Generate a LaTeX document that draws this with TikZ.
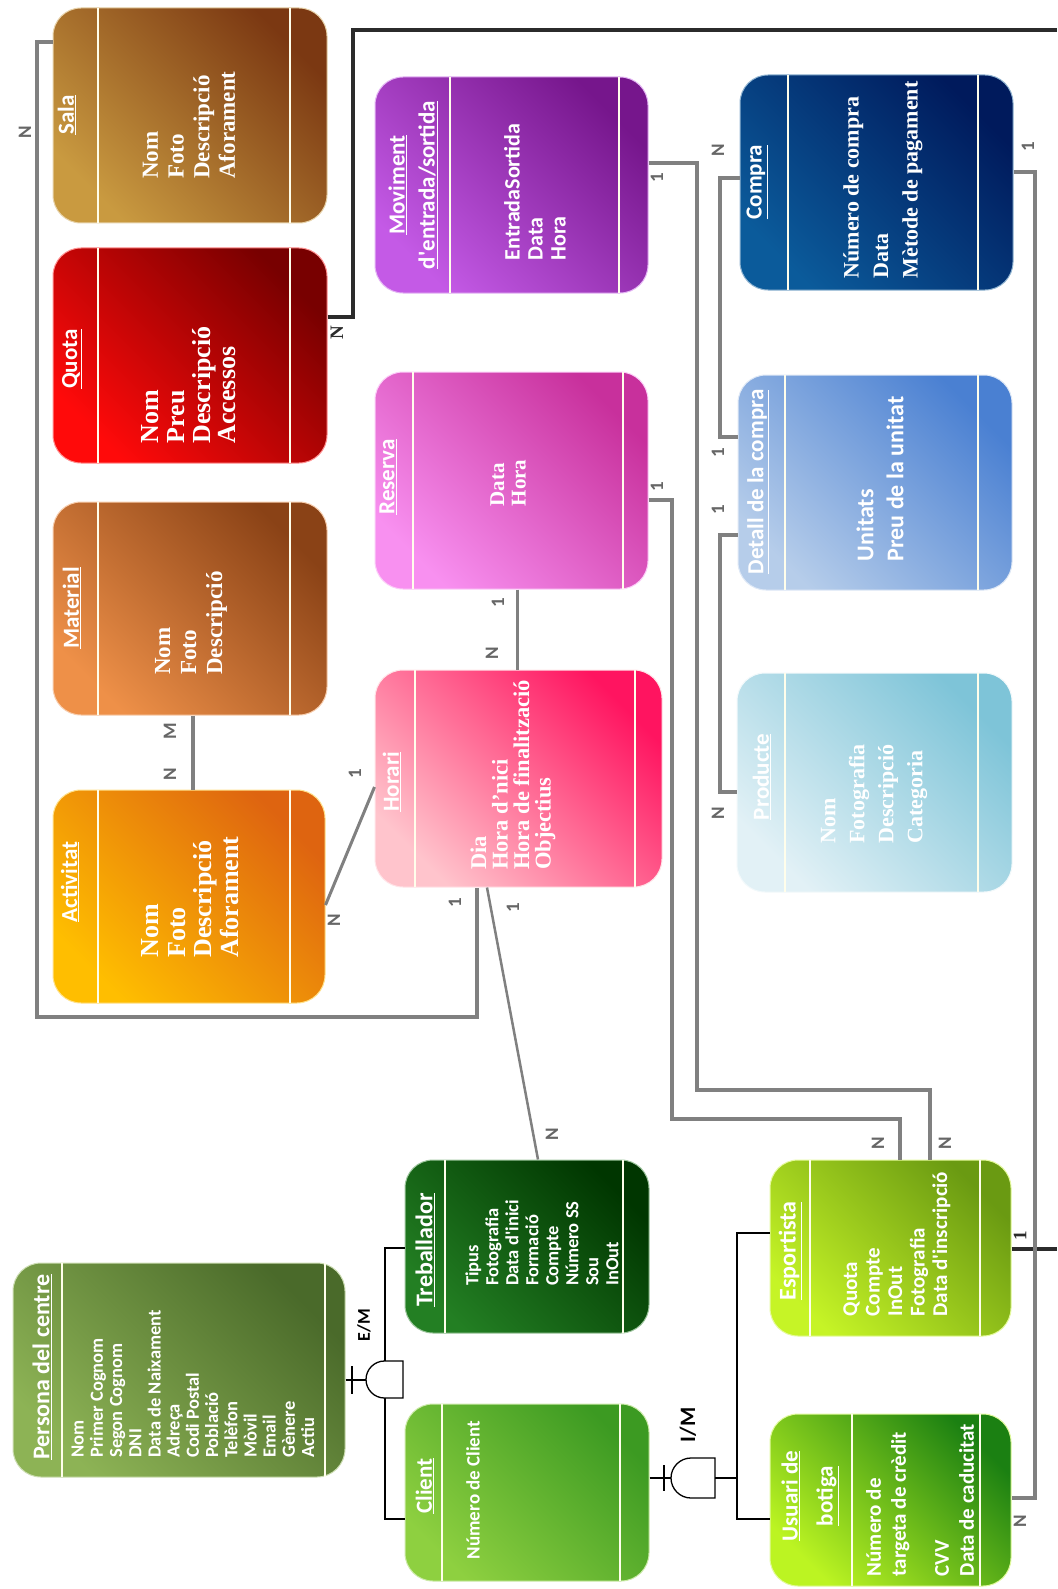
\documentclass[tikz,border=0pt]{standalone}
\usepackage{fontspec}
\setmainfont{Liberation Serif}
\newfontfamily\sansf{Carlito}
\usetikzlibrary{fit}
\definecolor{salaL}{HTML}{C99A40}\definecolor{salaD}{HTML}{7B3812}
\definecolor{quotaL}{HTML}{FF0A0A}\definecolor{quotaD}{HTML}{780000}
\definecolor{matL}{HTML}{EE9048}\definecolor{matD}{HTML}{8A4216}
\definecolor{actL}{HTML}{FFBE00}\definecolor{actD}{HTML}{DE6410}
\definecolor{movL}{HTML}{C45AE6}\definecolor{movD}{HTML}{76168C}
\definecolor{resL}{HTML}{F890F0}\definecolor{resD}{HTML}{C8309C}
\definecolor{horL}{HTML}{FFC4CC}\definecolor{horD}{HTML}{FF1460}
\definecolor{comL}{HTML}{0B5B9B}\definecolor{comD}{HTML}{001A5C}
\definecolor{detL}{HTML}{B6CDEA}\definecolor{detD}{HTML}{4A80D2}
\definecolor{proL}{HTML}{E2F1F6}\definecolor{proD}{HTML}{7EC4D8}
\definecolor{perL}{HTML}{8DB355}\definecolor{perD}{HTML}{4A6A2A}
\definecolor{trbL}{HTML}{237F23}\definecolor{trbD}{HTML}{003600}
\definecolor{cliL}{HTML}{8ED040}\definecolor{cliD}{HTML}{3C9A22}
\definecolor{espL}{HTML}{C6F426}\definecolor{espD}{HTML}{6A9A12}
\definecolor{usuL}{HTML}{BCF422}\definecolor{usuD}{HTML}{1B8012}
\definecolor{linegray}{HTML}{808080}
\definecolor{cardgray}{HTML}{666666}
\definecolor{darkline}{HTML}{2B2B2B}
\newcommand\entbox[9]{%
  \node[entity, fit={(#2,#3) (#4,#5)}, top color=#9, bottom color=#8,
        shading angle=-45, draw=#8!45!white] (#1) {};
  \draw[divider] (#6,#3) -- (#6,#5);
  \draw[divider] (#7,#3) -- (#7,#5);
}
\begin{document}
\begin{tikzpicture}[x=1pt,y=-1pt,
  entity/.style={rounded corners=28pt, inner sep=0pt, line width=1pt},
  divider/.style={draw=white!92!yellow, line width=1.2pt},
  hdr/.style={rotate=90, text=white, align=center, inner sep=0pt,
    font=\sansf\bfseries\fontsize{23}{30}\selectfont},
  sattr/.style 2 args={rotate=90, text=white, align=left, inner sep=0pt,
    font=\sansf\bfseries\fontsize{#1}{#2}\selectfont},
  rattr/.style 2 args={rotate=90, text=white, align=left, inner sep=0pt,
    font=\bfseries\fontsize{#1}{#2}\selectfont},
  card/.style={rotate=90, text=cardgray, inner sep=0pt,
    font=\sansf\bfseries\fontsize{19}{19}\selectfont},
  dcard/.style={card, text=darkline, font=\bfseries\fontsize{19}{19}\selectfont},
  gline/.style={draw=linegray, line width=4pt},
  dline/.style={draw=darkline, line width=4pt},
  bline/.style={draw=black, line width=1.3pt},
  gate/.style={draw=black, fill=white, line width=1.3pt},
]
\useasboundingbox[fill=white] (0,0) rectangle (1057,1589);

\coordinate (topR) at (1057,30);
\coordinate (espR) at (1057,1249);

% ---------------- column 1 ----------------
\entbox{sala}{53}{8}{327}{223}{98}{290}{salaL}{salaD}
\node[hdr] (salaH) at (67,115) {\underline{Sala}};
\node[rattr={23}{25.7}] (salaA) at (189,125) {Nom\\Foto\\Descripció\\Aforament};

\entbox{quota}{53}{248}{327}{463}{98}{290}{quotaL}{quotaD}
\node[hdr] (quotaH) at (72,359) {\underline{Quota}};
\node[rattr={26}{25.7}] (quotaA) at (189,385) {Nom\\Preu\\Descripció\\Accessos};

\entbox{material}{53}{502}{327}{715}{98}{290}{matL}{matD}
\node[hdr] (matH) at (72,608) {\underline{Material}};
\node[rattr={23}{26}] (matA) at (191,623) {Nom\\Foto\\Descripció};

\entbox{activitat}{53}{790}{325}{1003}{98}{290}{actL}{actD}
\node[hdr] (actH) at (70,882) {\underline{Activitat}};
\node[rattr={26}{26.7}] (actA) at (190,897) {Nom\\Foto\\Descripció\\Aforament};

% ---------------- column 2 ----------------
\entbox{moviment}{375}{77}{648}{293}{450}{619}{movL}{movD}
\node[hdr] (movH) at (413,185) {\underline{Moviment}\\\underline{d'entrada/sortida}};
\node[sattr={22}{23}] (movA) at (535,192) {EntradaSortida\\Data\\Hora};

\entbox{reserva}{375}{372}{648}{589}{413}{623}{resL}{resD}
\node[hdr] (resH) at (388,477) {\underline{Reserva}};
\node[rattr={21}{21.5}] (resA) at (508,483) {Data\\Hora};

\entbox{horari}{375}{670}{662}{887}{415}{635}{horL}{horD}
\node[hdr] (horH) at (392,782) {\underline{Horari}};
\node[rattr={22.5}{21.5}] (horA) at (513,775) {Dia\\Hora d'nici\\Hora de finalització\\Objectius};

% ---------------- column 3 ----------------
\entbox{compra}{740}{75}{1013}{290}{788}{978}{comL}{comD}
\node[hdr] (comH) at (757,182) {\underline{Compra}};
\node[rattr={22}{29.5}] (comA) at (883,180) {Número de compra\\Data\\Mètode de pagament};

\entbox{detall}{738}{375}{1012}{590}{785}{978}{detL}{detD}
\node[hdr] (detH) at (758,482) {\underline{Detall de la compra}};
\node[sattr={24}{30}] (detA) at (880,479) {Unitats\\Preu de la unitat};

\entbox{producte}{737}{673}{1012}{892}{785}{978}{proL}{proD}
\node[hdr] (proH) at (762,777) {\underline{Producte}};
\node[rattr={22}{29}] (proA) at (874,794) {Nom\\Fotografia\\Descripció\\Categoria};

% ---------------- lower part ----------------
\entbox{persona}{13}{1263}{345}{1477}{62}{325}{perL}{perD}
\node[hdr, font=\sansf\bfseries\fontsize{24}{30}\selectfont] (perH) at (42,1367) {\underline{Persona del centre}};
\node[sattr={18.5}{19.2}] (perA) at (193,1384) {Nom\\Primer Cognom\\Segon Cognom\\DNI\\Data de Naixament\\Adreça\\Codi Postal\\Població\\Telèfon\\Mòvil\\Email\\Gènere\\Actiu};

\entbox{treballador}{405}{1160}{649}{1333}{445}{623}{trbL}{trbD}
\node[hdr, font=\sansf\bfseries\fontsize{24}{30}\selectfont] (trbH) at (425,1250) {\underline{Treballador}};
\node[sattr={18.5}{20}] (trbA) at (542,1243) {Tipus\\Fotografia\\Data d'inici\\Formació\\Compte\\Número SS\\Sou\\InOut};

\entbox{client}{405}{1404}{649}{1581}{442}{620}{cliL}{cliD}
\node[hdr] (cliH) at (425,1486) {\underline{Client}};
\node[sattr={19}{19}] (cliA) at (473,1490) {Número de Client};

\entbox{esportista}{770}{1160}{1011}{1336}{810}{980}{espL}{espD}
\node[hdr, font=\sansf\bfseries\fontsize{24}{30}\selectfont] (espH) at (790,1251) {\underline{Esportista}};
\node[sattr={21}{22.5}] (espA) at (897,1244) {Quota\\Compte\\InOut\\Fotografia\\Data d'inscripció};

\entbox{usuari}{770}{1414}{1011}{1586}{852}{980}{usuL}{usuD}
\node[hdr, font=\sansf\bfseries\fontsize{23}{35}\selectfont] (usuH) at (810,1496) {\underline{Usuari de}\\\underline{botiga}};
\node[sattr={21}{25}] (usuA) at (920,1500) {Número de\\targeta de crèdit\\[18pt]CVV\\Data de caducitat};

% ---------------- relationship lines ----------------
\draw[gline, line width=3.5pt] (sala.west |- 0,42) -- (37,42) -- (37,1017) -- (477,1017) -- (horari.south -| 477,0);
\draw[dline] (quota.east |- 0,317) -- (353,317) -- (353,30) -- (topR);
\draw[dline] (esportista.east |- 0,1249) -- (espR);
\draw[gline] (material.south -| 193,0) -- (activitat.north -| 193,0);
\draw[gline, line width=3pt] (activitat.east |- 0,905) -- (horari.west |- 0,787);
\draw[gline, line width=3pt] (reserva.south -| 517,0) -- (horari.north -| 517,0);
\draw[gline, line width=2.5pt] (horari.south -| 487,0) -- (treballador.north -| 538,0);
\draw[gline] (moviment.east |- 0,163) -- (697,163) -- (697,1090) -- (930,1090) -- (esportista.north -| 930,0);
\draw[gline] (reserva.east |- 0,500) -- (672,500) -- (672,1119) -- (900,1119) -- (esportista.north -| 900,0);
\draw[gline] (compra.west |- 0,178) -- (720,178) -- (720,437) -- (detall.west |- 0,437);
\draw[gline] (detall.west |- 0,535) -- (720,535) -- (720,792) -- (producte.west |- 0,792);
\draw[gline] (compra.east |- 0,172) -- (1035,172) -- (1035,1498) -- (usuari.east |- 0,1498);

% ---------------- generalisations ----------------
\draw[bline] (treballador.west |- 0,1248) -- (385,1248) -- (385,1519) -- (client.west |- 0,1519);
\draw[bline] (persona.east |- 0,1380) -- (366,1380);
\draw[bline] (352,1366) -- (352,1394);
\draw[gate] (403,1361) -- (384.5,1361) .. controls (374.3,1361) and (366,1369.3) .. (366,1379.5)
   .. controls (366,1389.7) and (374.3,1398) .. (384.5,1398) -- (403,1398) -- cycle;
\node[rotate=90, inner sep=0pt, font=\sansf\bfseries\fontsize{18}{18}\selectfont] (em) at (364,1325) {E/M};

\draw[bline] (esportista.west |- 0,1233) -- (737,1233) -- (737,1519) -- (usuari.west |- 0,1519);
\draw[bline] (client.east |- 0,1478) -- (671,1478);
\draw[bline] (664,1465) -- (664,1491);
\draw[gate] (715,1458) -- (691,1458) .. controls (680,1458) and (671,1467) .. (671,1478)
   .. controls (671,1489) and (680,1498) .. (691,1498) -- (715,1498) -- cycle;
\draw[bline] (715,1478) -- (737,1478);
\node[rotate=90, inner sep=0pt, font=\sansf\bfseries\fontsize{22}{22}\selectfont] (im) at (688,1425) {I/M};

% ---------------- cardinalities ----------------
\node[card] (c1) at (25,132) {N};
\node[card] (c2) at (455,903) {1};
\node[card] (c3) at (513,908) {1};
\node[card] (c4) at (552,1134) {N};
\node[card] (c5) at (170,731) {M};
\node[card] (c6) at (170,774) {N};
\node[card] (c7) at (334,920) {N};
\node[card] (c8) at (355,774) {1};
\node[card] (c9) at (498,603) {1};
\node[card] (c10) at (492,653) {N};
\node[card] (c11) at (657,178) {1};
\node[card] (c12) at (657,487) {1};
\node[card] (c13) at (878,1143) {N};
\node[card] (c14) at (945,1143) {N};
\node[card] (c15) at (718,150) {N};
\node[card] (c16) at (718,453) {1};
\node[card] (c17) at (718,510) {1};
\node[card] (c18) at (718,813) {N};
\node[card] (c19) at (1028,147) {1};
\node[card] (c20) at (1020,1521) {N};
\node[dcard] (c21) at (337,333) {N};
\node[dcard] (c22) at (1020,1236) {1};
\end{tikzpicture}
\end{document}
